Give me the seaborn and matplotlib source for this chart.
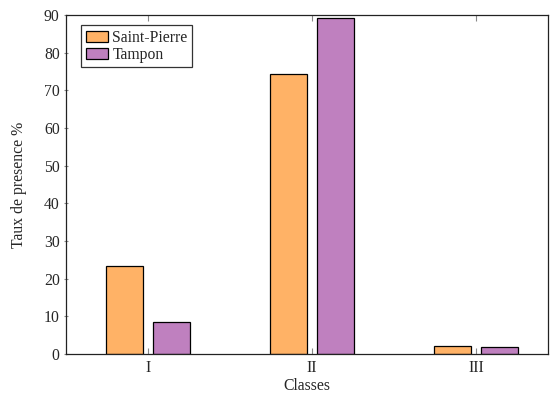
import matplotlib
matplotlib.use("Agg")
import matplotlib.pyplot as plt
import seaborn as sns
import pandas as pd

classes = ["I", "II", "III"]
saint_pierre = [23.4, 74.3, 2.1]
tampon = [8.6, 89.1, 2.0]
series = ["Saint-Pierre", "Tampon"]
colors = ["#FFB266", "#BF80BF"]

df = pd.DataFrame({
    "Classes": classes * 2,
    "val": saint_pierre + tampon,
    "site": [series[0]] * 3 + [series[1]] * 3,
})

sns.set_style("white")
plt.rcParams["font.family"] = ["Liberation Serif", "DejaVu Serif"]
plt.rcParams["font.size"] = 11.3

fig = plt.figure(figsize=(5.5, 3.97), dpi=100)
ax = fig.add_axes([0.12, 0.108, 0.8764, 0.854])
sns.barplot(data=df, x="Classes", y="val", hue="site", palette=colors,
            width=0.572, gap=0.21, edgecolor="black", linewidth=0.9,
            saturation=1, ax=ax)

ax.set_xlim(-0.5, 2.44)
ax.set_ylim(0, 90)
ax.set_yticks(range(0, 91, 10))
ax.set_xlabel("Classes", labelpad=2)
ax.set_ylabel("Taux de presence %", labelpad=12)
for s in ax.spines.values():
    s.set_visible(True)
    s.set_color("#222222")
    s.set_linewidth(0.9)
ax.tick_params(axis="x", direction="in", length=4, top=True, bottom=True,
               color="#888888", pad=4)
ax.tick_params(axis="y", direction="inout", length=3, left=True,
               color="#888888", pad=3)
leg = ax.legend(loc="upper left", frameon=True, fancybox=False, edgecolor="black",
                handlelength=1.4, handleheight=0.7, handletextpad=0.3,
                borderpad=0.3, labelspacing=0.05, borderaxespad=0,
                bbox_to_anchor=(0.031, 0.97))
leg.get_frame().set_linewidth(0.9)
leg.set_title(None)

fig.savefig("out.png", dpi=100)
